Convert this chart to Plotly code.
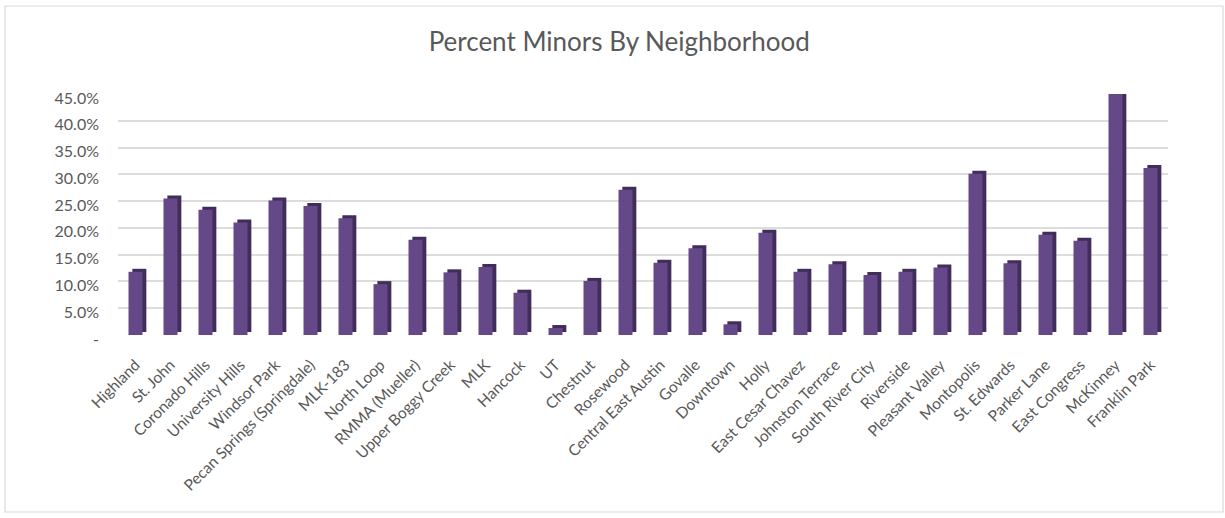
import plotly.graph_objects as go

# Share of residents under 18, by neighborhood
neighborhoods = [
    "Highland", "St. John", "Coronado Hills", "University Hills", "Windsor Park",
    "Pecan Springs (Springdale)", "MLK-183", "North Loop", "RMMA (Mueller)",
    "Upper Boggy Creek", "MLK", "Hancock", "UT", "Chestnut", "Rosewood",
    "Central East Austin", "Govalle", "Downtown", "Holly", "East Cesar Chavez",
    "Johnston Terrace", "South River City", "Riverside", "Pleasant Valley",
    "Montopolis", "St. Edwards", "Parker Lane", "East Congress", "McKinney",
    "Franklin Park",
]
pct_minors = [
    0.118, 0.255, 0.234, 0.210, 0.251,
    0.241, 0.218, 0.095, 0.178,
    0.117, 0.127, 0.079, 0.013, 0.101, 0.271,
    0.135, 0.162, 0.020, 0.191, 0.118,
    0.132, 0.112, 0.118, 0.126,
    0.301, 0.134, 0.187, 0.176, 0.450,
    0.312,
]
tick_values = [0, 0.05, 0.10, 0.15, 0.20, 0.25, 0.30, 0.35, 0.40, 0.45]
tick_labels = ["-", "5.0%", "10.0%", "15.0%", "20.0%", "25.0%", "30.0%", "35.0%", "40.0%", "45.0%"]

FONT = "Lato"
TEXT = "#595959"
FRONT = "#654887"
SHADE = "#412D59"

BAR_W = 0.40        # front face width (category units)
SIDE_DX = 0.11      # depth of the side face (category units)
TOP_DY = 0.0056     # depth of the top face (value units)

fig = go.Figure()

# darker block behind each bar, shifted up/right -> side and top faces
fig.add_trace(go.Bar(
    x=neighborhoods, y=pct_minors, base=[TOP_DY] * len(pct_minors),
    width=BAR_W, offset=-BAR_W / 2 + SIDE_DX,
    marker=dict(color=SHADE, line=dict(width=0)),
    cliponaxis=False, hoverinfo="skip", showlegend=False,
))
# front face
fig.add_trace(go.Bar(
    x=neighborhoods, y=pct_minors,
    width=BAR_W, offset=-BAR_W / 2,
    marker=dict(color=FRONT, line=dict(width=0)),
    cliponaxis=False, showlegend=False,
))

# chart-area border
L, R, T, B = 118, 1168, 94, 335
def px_x(v):
    return (v - L) / (R - L)
def px_y(v):
    return (B - v) / (B - T)

fig.add_shape(type="rect", xref="paper", yref="paper",
              x0=px_x(5), x1=px_x(1223), y0=px_y(512), y1=px_y(6),
              line=dict(color="#D9D9D9", width=1.2), fillcolor="rgba(0,0,0,0)",
              layer="below")

fig.update_layout(
    width=1225, height=518,
    margin=dict(l=L, r=1225 - R, t=T, b=518 - B),
    paper_bgcolor="white", plot_bgcolor="white",
    barmode="overlay",
    font=dict(family=FONT, color=TEXT),
    title=dict(text="Percent Minors By Neighborhood",
               x=0.5055, xanchor="center", xref="container",
               y=1 - 42 / 518, yanchor="middle", yref="container",
               font=dict(family=FONT, size=26, color=TEXT)),
    xaxis=dict(type="category", categoryorder="array", categoryarray=neighborhoods,
               range=[-0.5, len(neighborhoods) - 0.5],
               tickangle=-45, tickfont=dict(family=FONT, size=15.5, color=TEXT),
               showgrid=False, zeroline=False, showline=False, ticks="",
               ticklabelstandoff=17),
    yaxis=dict(range=[0, 0.45], tickvals=tick_values, ticktext=tick_labels,
               tickfont=dict(family=FONT, size=16, color=TEXT),
               showgrid=True, gridcolor="#DDDDDD", gridwidth=1.5,
               zeroline=False, showline=False, ticks="",
               ticklabelstandoff=18, ticklabelshift=4),
)

fig.write_html("out.html")
